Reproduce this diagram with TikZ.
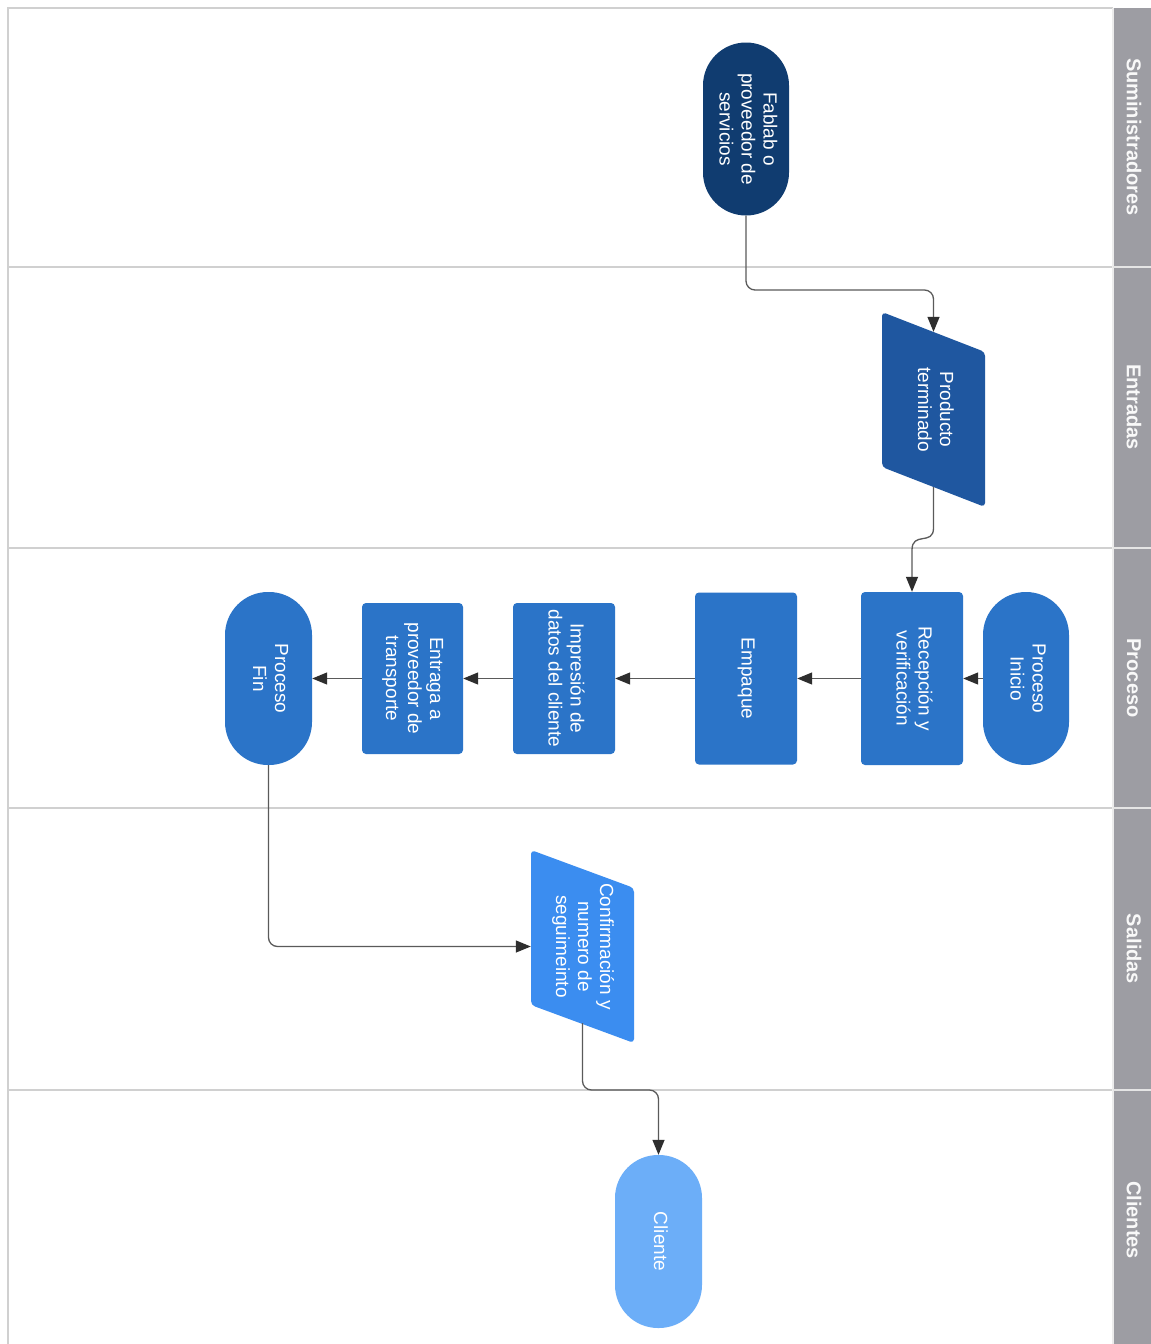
\documentclass[tikz,border=0pt]{standalone}
\usepackage{fontspec}
\setmainfont{Liberation Sans}
\newfontfamily\hdrfont{Liberation Sans}
\usetikzlibrary{arrows.meta}
\definecolor{cFab}{HTML}{103C70}
\definecolor{cProd}{HTML}{1F57A0}
\definecolor{cProc}{HTML}{2B74C8}
\definecolor{cConf}{HTML}{3B8DF0}
\definecolor{cCli}{HTML}{6CAEF8}
\definecolor{cLine}{HTML}{5A5A5A}
\definecolor{cArr}{HTML}{2E2E2E}
\definecolor{cLane}{HTML}{D0D0D0}
\definecolor{cHdr}{HTML}{9D9DA3}
\newcommand{\vtxt}[1]{\rotatebox{-90}{\begin{tabular}{@{}c@{}}#1\end{tabular}}}
\tikzset{
  base/.style={rectangle, inner sep=0pt, text=white, font=\fontsize{19}{22}\selectfont},
  stadium/.style={base, rounded corners=43pt, minimum width=86pt, minimum height=173pt},
  procbox/.style={base, fill=cProc, rounded corners=4pt, minimum width=102pt},
  ghost/.style={base, minimum width=103pt},
  conn/.style={draw=cLine, line width=1.3pt, -{Triangle[length=15pt,width=12pt,color=cArr]}},
  lane/.style={draw=cLane, line width=2pt},
  hdrtxt/.style={rotate=-90, text=white!95!gray, font=\hdrfont\bfseries\fontsize{20}{24}\selectfont}
}
\begin{document}
\begin{tikzpicture}[x=1pt,y=-1pt]
\useasboundingbox (0,0) rectangle (1151,1344);
\fill[white] (0,0) rectangle (1151,1344);
% lanes
\draw[lane] (8,1344) -- (8,8) -- (1113,8);
\foreach \yy in {267,548,808,1090} \draw[lane] (8,\yy) -- (1113,\yy);
\fill[cHdr] (1113,8) rectangle (1151,1344);
\draw[white!85!gray, line width=1.5pt] (1113,8) -- (1113,1344);
\foreach \yy in {267,548,808,1090} \draw[white!80!gray, line width=1.5pt] (1113,\yy) -- (1151,\yy);
\node[hdrtxt] (h1) at (1134,137) {Suministradores};
\node[hdrtxt] (h2) at (1134,407) {Entradas};
\node[hdrtxt] (h3) at (1134,678) {Proceso};
\node[hdrtxt] (h4) at (1134,949) {Salidas};
\node[hdrtxt] (h5) at (1134,1220) {Clientes};
% shapes
\node[stadium, fill=cFab] (fab) at (746,129) {\vtxt{Fablab o\\proveedor de\\servicios}};
\fill[cProd, rounded corners=4pt] (882,312) -- (985,352) -- (985,507) -- (882,467) -- cycle;
\node[ghost, minimum height=155pt] (prod) at (933.5,409.5) {\vtxt{Producto\\terminado}};
\node[stadium, fill=cProc] (ini) at (1026,678.5) {\vtxt{Proceso\\Inicio}};
\node[procbox, minimum height=173pt] (rec) at (912,678.5) {\vtxt{Recepción y\\verificación}};
\node[procbox, minimum height=172pt] (emp) at (746,678.5) {\vtxt{Empaque}};
\node[procbox, minimum height=151pt] (imp) at (564,678.5) {\vtxt{Impresión de\\datos del cliente}};
\node[procbox, minimum height=151pt, minimum width=101pt] (ent) at (412.5,678.5) {\vtxt{Entraga a\\proveedor de\\transporte}};
\node[stadium, fill=cProc, minimum width=87pt] (fin) at (268.5,678.5) {\vtxt{Proceso\\Fin}};
\fill[cConf, rounded corners=4pt] (531,850) -- (634,888) -- (634,1043) -- (531,1005) -- cycle;
\node[ghost, minimum height=153pt] (conf) at (582.5,946.5) {\vtxt{Confirmación y\\numero de\\seguimeinto}};
\node[stadium, fill=cCli, minimum width=87pt] (cli) at (658.5,1241.5) {\vtxt{Cliente}};
% connectors
\draw[conn, rounded corners=9pt] (fab.south) -- (fab.south |- 0,290) -| (prod.north);
\draw[conn] (prod.south) -- (prod.south |- 0,528) .. controls (933.5,546) and (912,531) .. (912,550) -- (rec.north);
\draw[conn] (ini.west) -- (rec.east);
\draw[conn] (rec.west) -- (emp.east);
\draw[conn] (emp.west) -- (imp.east);
\draw[conn] (imp.west) -- (ent.east);
\draw[conn] (ent.west) -- (fin.east);
\draw[conn, rounded corners=9pt] (fin.south) |- (conf.west);
\draw[conn, rounded corners=9pt] (conf.south) -- (conf.south |- 0,1090) -| (cli.north);
\end{tikzpicture}
\end{document}
